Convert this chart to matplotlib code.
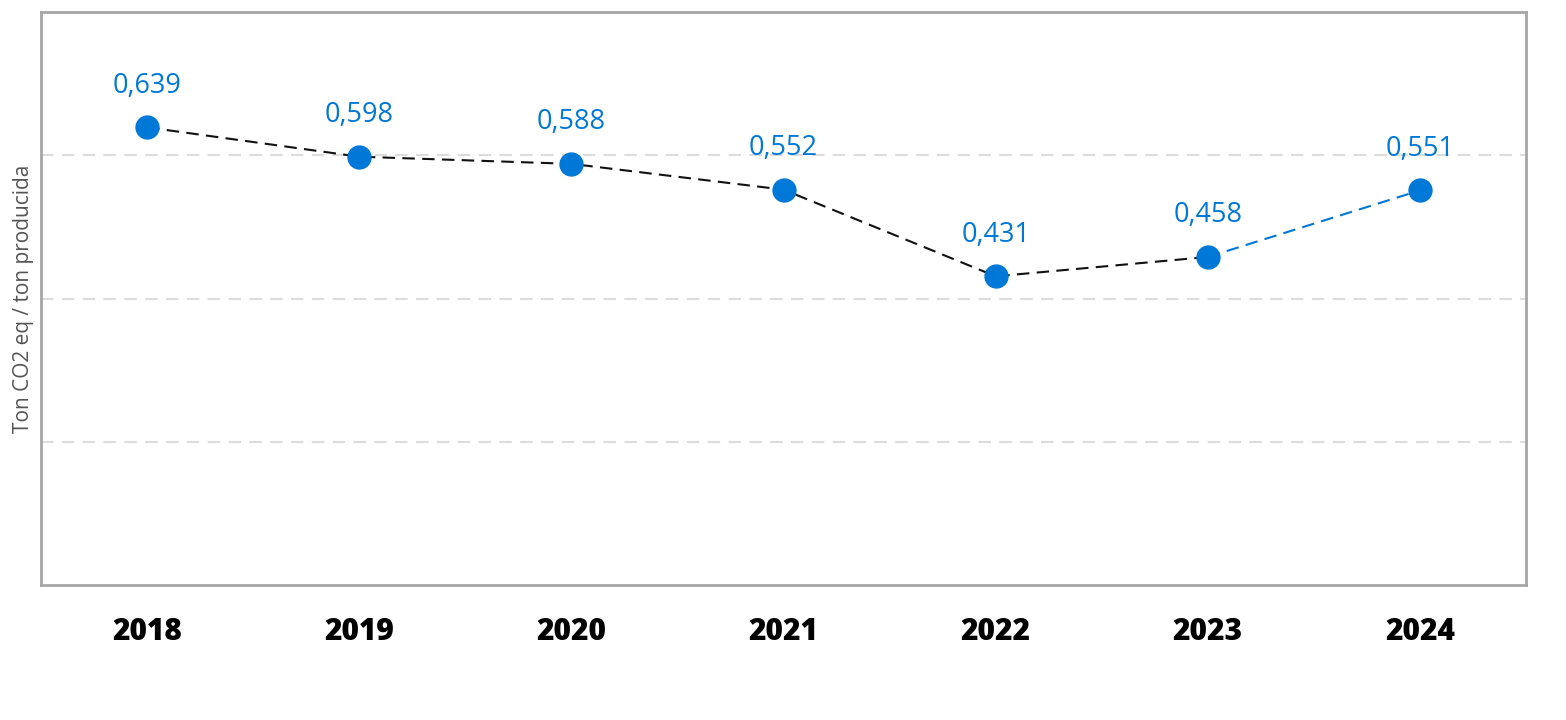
import matplotlib

matplotlib.use("Agg")
import matplotlib.pyplot as plt

years = ["2018", "2019", "2020", "2021", "2022", "2023", "2024"]
values = [0.639, 0.598, 0.588, 0.552, 0.431, 0.458, 0.551]
labels = ["0,639", "0,598", "0,588", "0,552", "0,431", "0,458", "0,551"]

BLUE = "#0078d7"
GRID = "#dcdcdc"
SPINE = "#a6a6a6"

plt.rcParams["font.family"] = ["Open Sans", "DejaVu Sans"]

fig = plt.figure(figsize=(15.66, 7.2), dpi=100)
ax = fig.add_axes([0.0262, 0.1875, 0.9483, 0.7958])

x = list(range(len(years)))

# historical segment in black, last step in blue
ax.plot(x[:-1], values[:-1], color="#111111", lw=1.5, ls=(0, (6, 3.5)), zorder=2)
ax.plot(x[-2:], values[-2:], color=BLUE, lw=1.5, ls=(0, (6, 3.5)), zorder=2)
ax.plot(x, values, ls="none", marker="o", ms=16.5, color=BLUE, zorder=3)

for xi, v, lab in zip(x, values, labels):
    ax.annotate(lab, (xi, v), xytext=(0, 20), textcoords="offset points",
                ha="center", va="bottom", color=BLUE, fontsize=19.5)

ax.set_xlim(-0.5, len(years) - 0.5)
ax.set_ylim(0, 0.8)
ax.set_yticks([0.2, 0.4, 0.6])
ax.yaxis.grid(True, color=GRID, lw=1.5, ls=(0, (6, 4)))
ax.set_axisbelow(True)
ax.tick_params(axis="y", length=0, labelleft=False)
ax.tick_params(axis="x", length=0, pad=23)
ax.set_xticks(x)
ax.set_xticklabels(years, fontsize=21.5, fontweight="heavy", color="black")

for s in ax.spines.values():
    s.set_color(SPINE)
    s.set_linewidth(2)

ax.set_ylabel("Ton CO2 eq / ton producida", fontsize=15, color="#555555", labelpad=5)

fig.savefig("out.png", dpi=100)
